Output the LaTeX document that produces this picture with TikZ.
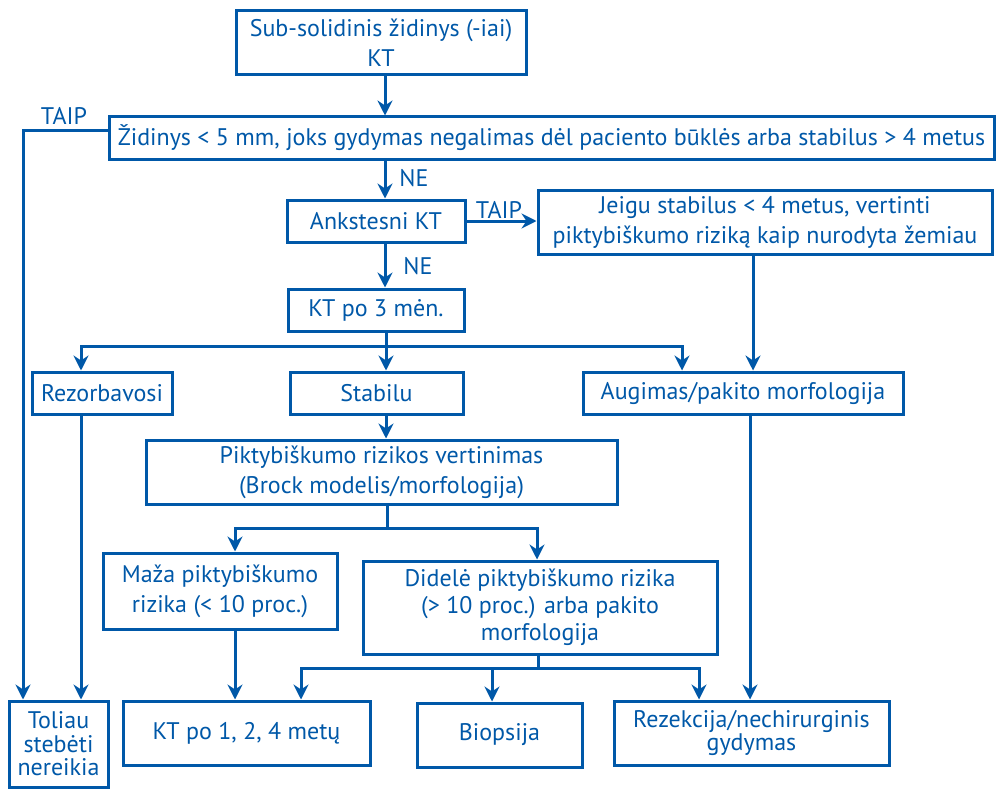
\documentclass[tikz,border=0pt]{standalone}
\usepackage{fontspec}
\setmainfont{PT Sans}
\usetikzlibrary{arrows.meta}
\definecolor{flowblue}{RGB}{0,88,168}
\begin{document}
\begin{tikzpicture}[x=1pt,y=-1pt,
  every node/.style={text=flowblue, font=\fontsize{24}{30}\selectfont},
  box/.style={draw=flowblue, line width=3pt, align=center, inner sep=0pt},
  tight/.style={font=\fontsize{24}{23.5}\selectfont},
  mid/.style={font=\fontsize{24}{27}\selectfont},
  link/.style={draw=flowblue, line width=3pt},
  arr/.style={link, -{Stealth[length=15pt,width=15pt,inset=5pt]}},
  lbl/.style={inner sep=0pt}]
\useasboundingbox (0,0) rectangle (1001,789);

% boxes
\node[box, minimum width=290, minimum height=64] (sub) at (381,43) {Sub-solidinis židinys (-iai)\\KT};
\node[box, minimum width=885, minimum height=42] (zid) at (551.5,138) {Židinys < 5 mm, joks gydymas negalimas dėl paciento būklės arba stabilus > 4 metus};
\node[box, minimum width=178, minimum height=42] (ank) at (376,221) {Ankstesni KT};
\node[box, minimum width=454, minimum height=64] (jei) at (765,222) {Jeigu stabilus < 4 metus, vertinti\\piktybiškumo riziką kaip nurodyta žemiau};
\node[box, minimum width=176, minimum height=42] (kt3) at (376,310) {KT po 3 mėn.};
\node[box, minimum width=140, minimum height=42] (rez) at (102,393) {Rezorbavosi};
\node[box, minimum width=173, minimum height=42] (stab) at (376.5,393) {Stabilu};
\node[box, minimum width=320, minimum height=42] (aug) at (743,393) {Augimas/pakito morfologija};
\node[box, minimum width=471, minimum height=64] (pik) at (381.5,472) {Piktybiškumo rizikos vertinimas\\(Brock modelis/morfologija)};
\node[box, minimum width=234, minimum height=76] (maz) at (220,591) {Maža piktybiškumo\\rizika (< 10 proc.)};
\node[box, mid, minimum width=354, minimum height=93] (did) at (540,607.5) {Didelė piktybiškumo rizika\\(> 10 proc.) arba pakito\\morfologija};
\node[box, tight, minimum width=99, minimum height=86] (tol) at (58.5,744) {Toliau\\stebėti\\nereikia};
\node[box, minimum width=247, minimum height=64] (kt124) at (246.5,733) {KT po 1, 2, 4 metų};
\node[box, minimum width=165, minimum height=64] (bio) at (499.5,735) {Biopsija};
\node[box, tight, minimum width=275, minimum height=64] (rzk) at (751.5,733) {Rezekcija/nechirurginis\\gydymas};

% branch points
\coordinate (taipL) at (23,131);
\coordinate (splitA) at (386,346);
\coordinate (splitB) at (387,528);
\coordinate (splitC) at (538,668);

% connectors
\draw[arr] (sub.south -| 385,0) -- (zid.north -| 385,0);
\draw[arr] (zid.south -| 385,0) -- (ank.north -| 385,0);
\draw[arr] (zid.west |- taipL) -- (taipL) -- (tol.north -| taipL);
\draw[arr] (ank.east) -- (jei.west |- ank.east);
\draw[arr] (jei.south -| 753,0) -- (aug.north -| 753,0);
\draw[arr] (ank.south -| 385,0) -- (kt3.north -| 385,0);

\draw[link] (kt3.south -| splitA) -- (splitA);
\draw[arr] (splitA) -- (81,346) -- (rez.north -| 81,0);
\draw[arr] (splitA) -- (stab.north -| splitA);
\draw[arr] (splitA) -- (682,346) -- (aug.north -| 682,0);

\draw[arr] (stab.south -| 386,0) -- (pik.north -| 386,0);
\draw[link] (pik.south -| splitB) -- (splitB);
\draw[arr] (splitB) -- (235,528) -- (maz.north -| 235,0);
\draw[arr] (splitB) -- (537,528) -- (did.north -| 537,0);

\draw[arr] (rez.south -| 81,0) -- (tol.north -| 81,0);
\draw[arr] (maz.south -| 235,0) -- (kt124.north -| 235,0);
\draw[link] (did.south -| splitC) -- (splitC);
\draw[arr] (splitC) -- (301,668) -- (kt124.north -| 301,0);
\draw[arr] (splitC) -- (492,668) -- (bio.north -| 492,0);
\draw[arr] (splitC) -- (699,668) -- (rzk.north -| 699,0);
\draw[arr] (aug.south -| 750,0) -- (rzk.north -| 750,0);

% branch labels
\node[lbl] (taip1) at (64,116) {TAIP};
\node[lbl] (ne1) at (414,178) {NE};
\node[lbl] (taip2) at (499,210) {TAIP};
\node[lbl] (ne2) at (418,266) {NE};
\end{tikzpicture}
\end{document}
